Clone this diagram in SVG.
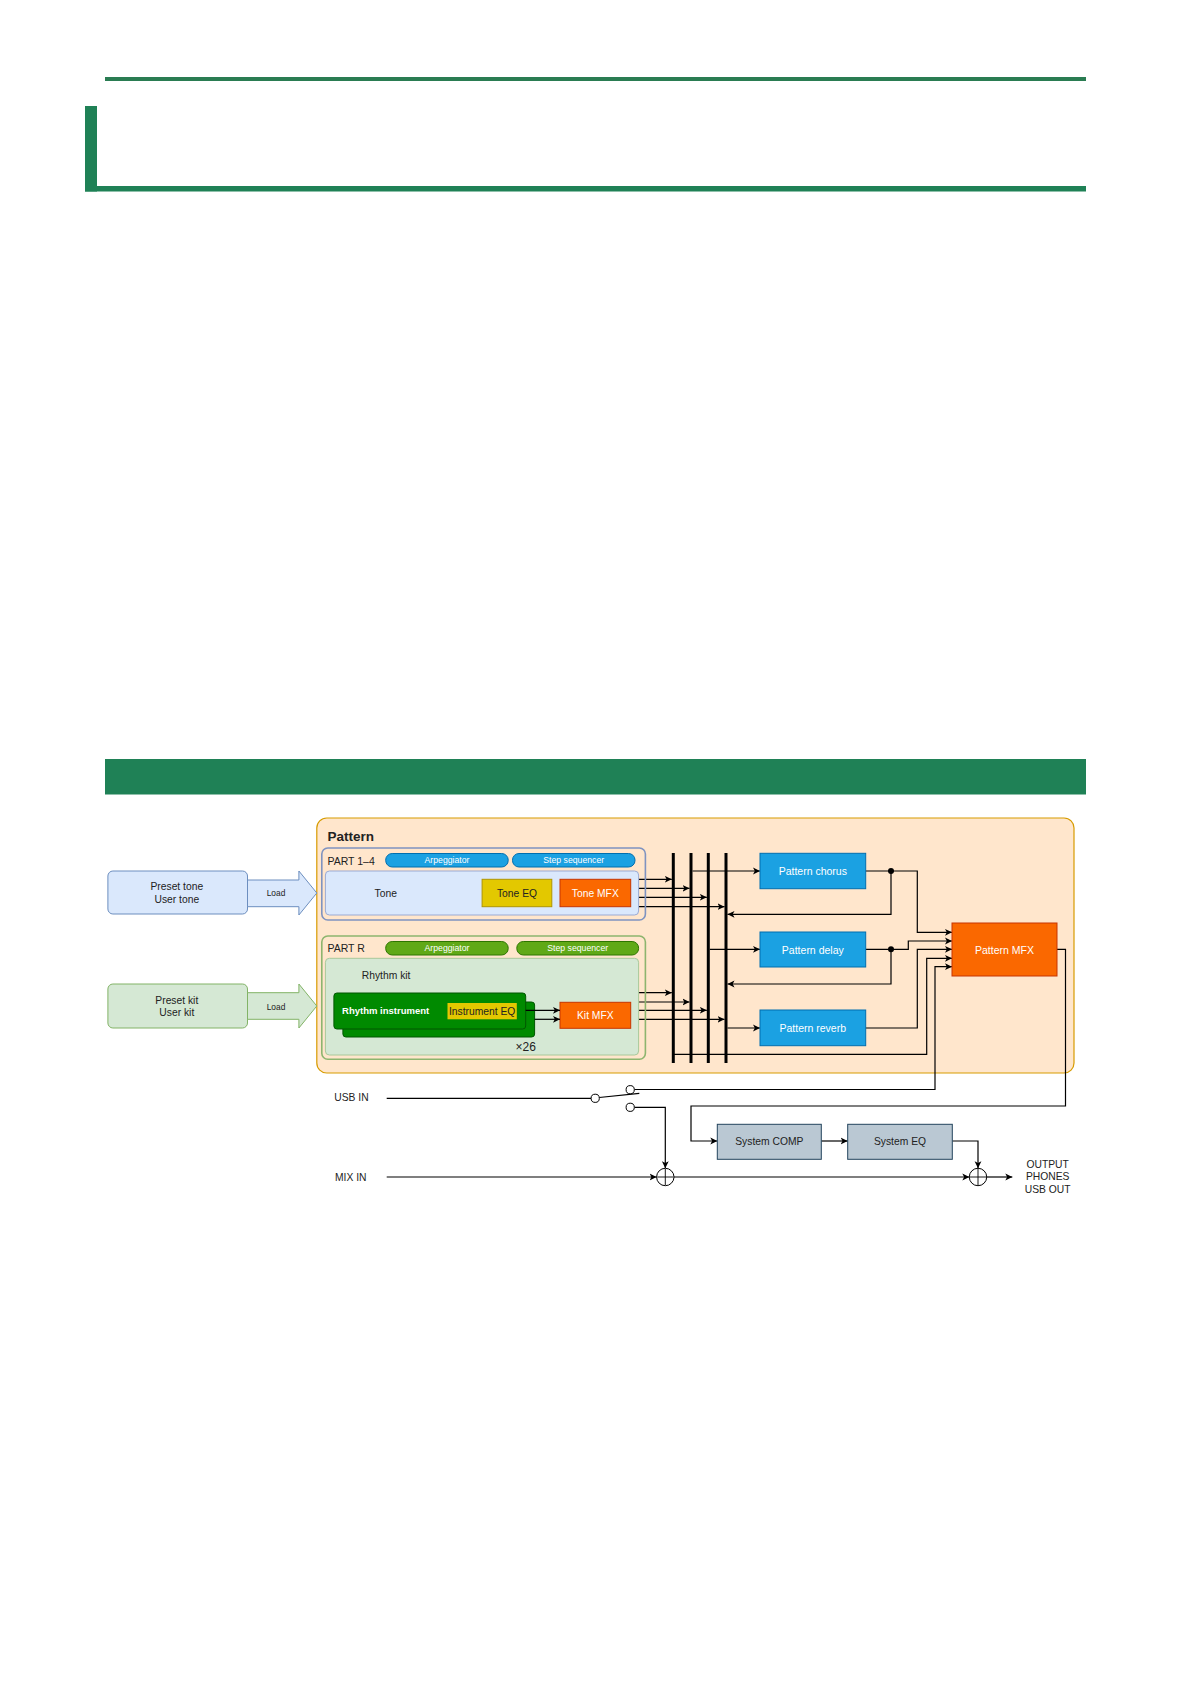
<svg xmlns="http://www.w3.org/2000/svg" width="1191" height="1684" viewBox="0 0 1191 1684">
<defs>
<marker id="a" markerWidth="8" markerHeight="8" refX="7" refY="4" orient="auto" markerUnits="userSpaceOnUse"><path d="M0,0.6 L7,4 L0,7.4 L1.8,4 Z" fill="#000"/></marker>
<style>
text{font-family:"Liberation Sans",Arial,sans-serif;font-size:10.3px;fill:#222}
.c{text-anchor:middle;dominant-baseline:central}
.l{dominant-baseline:central}
.w{fill:#fff}
.sm{font-size:8.7px}
.ln{fill:none;stroke:#000;stroke-width:1.2}
.bus{stroke:#000;stroke-width:3}
.blue{fill:#1ba1e2;stroke:#006eaf;stroke-width:1}
.orange{fill:#fa6800;stroke:#c73500;stroke-width:1}
.yellow{fill:#e3c800;stroke:#b09500;stroke-width:1}
.gpill{fill:#60a917;stroke:#2d7600;stroke-width:1}
.ginst{fill:#008a00;stroke:#005700;stroke-width:1}
.sys{fill:#bac8d3;stroke:#23445d;stroke-width:1}
.lb{fill:#dae8fc;stroke:#6c8ebf;stroke-width:1}
.lg{fill:#d5e8d4;stroke:#82b366;stroke-width:1}
.hdr{fill:#1f8156}
</style>
</defs>

<g id="page-header">
<rect x="105" y="77" width="981" height="4" fill="#2a7c52"/>
<rect x="85" y="106" width="12" height="85.5" class="hdr"/>
<rect x="85" y="186" width="1001" height="5.5" class="hdr"/>
<rect x="105" y="759" width="981" height="35.5" class="hdr"/>
</g>

<g id="pattern">
<rect x="316.8" y="818" width="757.2" height="255" rx="10" fill="#ffe6cc" stroke="#d79b00" stroke-width="1.2"/>
<text x="327.5" y="841" style="font-weight:bold;font-size:13.5px">Pattern</text>
</g>

<g id="connectors">
<path class="ln" d="M638.6,879.3 H671.8" marker-end="url(#a)"/>
<path class="ln" d="M638.6,888.3 H689.5" marker-end="url(#a)"/>
<path class="ln" d="M638.6,897.3 H706.8" marker-end="url(#a)"/>
<path class="ln" d="M638.6,906.7 H724.5" marker-end="url(#a)"/>
<path class="ln" d="M638.6,992.7 H671.8" marker-end="url(#a)"/>
<path class="ln" d="M638.6,1002 H689.5" marker-end="url(#a)"/>
<path class="ln" d="M638.6,1010.3 H706.8" marker-end="url(#a)"/>
<path class="ln" d="M638.6,1019.3 H724.5" marker-end="url(#a)"/>
<path class="ln" d="M692.5,871 H760" marker-end="url(#a)"/>
<path class="ln" d="M709.8,949.3 H760" marker-end="url(#a)"/>
<path class="ln" d="M727.5,1028 H760" marker-end="url(#a)"/>
<path class="ln" d="M673.3,1054.3 H926.7 V958.3 H952" marker-end="url(#a)"/>
<path class="ln" d="M865.7,871 H917.3 V932.3 H952" marker-end="url(#a)"/>
<path class="ln" d="M891,871 V914.3 H727.5" marker-end="url(#a)"/>
<path class="ln" d="M865.7,949.3 H908.3 V941 H952" marker-end="url(#a)"/>
<path class="ln" d="M891,949.3 V984 H727.5" marker-end="url(#a)"/>
<path class="ln" d="M865.7,1028 H917.3 V949.3 H952" marker-end="url(#a)"/>
<path class="ln" d="M634.4,1089.5 H935 V966.7 H952" marker-end="url(#a)"/>
<path class="ln" d="M1057,949.3 H1065.5 V1106 H691 V1141 H717.3" marker-end="url(#a)"/>
<path class="ln" d="M821.3,1141 H847.7" marker-end="url(#a)"/>
<path class="ln" d="M952.3,1141 H978 V1168.3" marker-end="url(#a)"/>
<path class="ln" d="M386.7,1098.3 H591"/>
<path class="ln" d="M599.2,1097.5 L639.3,1093.3"/>
<path class="ln" d="M634.4,1107.3 H665.3 V1168.3" marker-end="url(#a)"/>
<path class="ln" d="M386.7,1177 H656.6" marker-end="url(#a)"/>
<path class="ln" d="M674,1177 H969.3" marker-end="url(#a)"/>
<path class="ln" d="M986.7,1177 H1012.3" marker-end="url(#a)"/>
<circle cx="891" cy="871" r="3" fill="#000"/>
<circle cx="891" cy="949.3" r="3" fill="#000"/>
</g>

<g id="buses">
<line class="bus" x1="673.3" y1="853" x2="673.3" y2="1063"/>
<line class="bus" x1="691" y1="853" x2="691" y2="1063"/>
<line class="bus" x1="708.3" y1="853" x2="708.3" y2="1063"/>
<line class="bus" x1="726" y1="853" x2="726" y2="1063"/>
</g>

<g id="preset-tone">
<rect x="107.9" y="871" width="139.6" height="43" rx="5" class="lb"/>
<text class="c" x="176.8" y="886">Preset tone</text>
<text class="c" x="176.8" y="899.3">User tone</text>
</g>
<g id="load-tone">
<polygon class="lb" points="247.5,880 298.9,880 298.9,871 316.8,893 298.9,915 298.9,906.7 247.5,906.7"/>
<text class="c" x="276" y="893" style="font-size:8.4px">Load</text>
</g>
<g id="preset-kit">
<rect x="107.9" y="984" width="139.6" height="44" rx="5" class="lg"/>
<text class="c" x="176.8" y="1000">Preset kit</text>
<text class="c" x="176.8" y="1012.7">User kit</text>
</g>
<g id="load-kit">
<polygon class="lg" points="247.5,992.7 298.9,992.7 298.9,984 316.8,1006 298.9,1028 298.9,1019.3 247.5,1019.3"/>
<text class="c" x="276" y="1006.7" style="font-size:8.4px">Load</text>
</g>

<g id="part-1-4">
<rect x="321.8" y="848" width="323.6" height="72" rx="6" fill="none" stroke="#7f93c0" stroke-width="1.6"/>
<text class="l" x="327.5" y="860.5" style="font-size:10.5px">PART 1–4</text>
</g>
<g id="arp-1-4">
<rect x="385.7" y="853.5" width="122.5" height="13.5" rx="6.5" class="blue"/>
<text class="c w sm" x="447" y="860.3">Arpeggiator</text>
</g>
<g id="step-1-4">
<rect x="512.5" y="853.5" width="122.5" height="13.5" rx="6.5" class="blue"/>
<text class="c w sm" x="573.7" y="860.3">Step sequencer</text>
</g>
<g id="tone">
<rect x="325.4" y="871" width="313.2" height="44" rx="4" fill="#dae8fc" stroke="#9aaad4" stroke-width="1"/>
<text class="c" x="385.7" y="893">Tone</text>
</g>
<g id="tone-eq">
<rect x="482.1" y="879.3" width="69.7" height="27.4" class="yellow"/>
<text class="c" x="517" y="893">Tone EQ</text>
</g>
<g id="tone-mfx">
<rect x="560" y="879.3" width="70.7" height="27.4" class="orange"/>
<text class="c w" x="595.3" y="893">Tone MFX</text>
</g>

<g id="part-r">
<rect x="321.8" y="936" width="323.6" height="123.3" rx="6" fill="none" stroke="#8db56e" stroke-width="1.6"/>
<text class="l" x="327.5" y="948.3" style="font-size:10.5px">PART R</text>
</g>
<g id="arp-r">
<rect x="385.7" y="941.5" width="122.5" height="13.5" rx="6.5" class="gpill"/>
<text class="c w sm" x="447" y="948.3">Arpeggiator</text>
</g>
<g id="step-r">
<rect x="516.8" y="941.5" width="121.8" height="13.5" rx="6.5" class="gpill"/>
<text class="c w sm" x="577.7" y="948.3">Step sequencer</text>
</g>
<g id="rhythm-kit">
<rect x="325.4" y="958.3" width="313.2" height="96.7" rx="4" fill="#d5e8d4" stroke="#a8c99a" stroke-width="1"/>
<text class="l" x="361.8" y="975.7">Rhythm kit</text>
</g>
<g id="rhythm-instrument">
<rect x="342.9" y="1002" width="191.7" height="35" rx="3" class="ginst"/>
<rect x="333.9" y="993" width="191.8" height="36" rx="3" class="ginst"/>
<text class="l w" x="342.1" y="1010.5" style="font-weight:bold;font-size:9.5px">Rhythm instrument</text>
<text class="c" x="525.7" y="1046.7" style="font-size:12px">×26</text>
</g>
<g id="instrument-eq">
<rect x="447.5" y="1003" width="69.3" height="16.3" fill="#e3c800"/>
<text class="c" x="482.2" y="1011.2">Instrument EQ</text>
</g>
<g id="kit-mfx">
<rect x="560" y="1002.3" width="70.7" height="26" class="orange"/>
<text class="c w" x="595.3" y="1015.3">Kit MFX</text>
</g>
<g id="kit-arrows">
<path class="ln" d="M525.7,1010.3 H560" marker-end="url(#a)"/>
<path class="ln" d="M534.6,1019.3 H560" marker-end="url(#a)"/>
</g>

<g id="pattern-chorus">
<rect x="760" y="853.3" width="105.7" height="35.4" class="blue"/>
<text class="c w" x="812.8" y="871" style="font-size:10.5px">Pattern chorus</text>
</g>
<g id="pattern-delay">
<rect x="760" y="932" width="105.7" height="35" class="blue"/>
<text class="c w" x="812.8" y="949.5" style="font-size:10.5px">Pattern delay</text>
</g>
<g id="pattern-reverb">
<rect x="760" y="1010" width="105.7" height="35.7" class="blue"/>
<text class="c w" x="812.8" y="1028" style="font-size:10.5px">Pattern reverb</text>
</g>
<g id="pattern-mfx">
<rect x="952" y="923" width="105" height="53" class="orange"/>
<text class="c w" x="1004.5" y="949.5" style="font-size:10.5px">Pattern MFX</text>
</g>

<g id="usb-in">
<text class="l" x="334.3" y="1097">USB IN</text>
</g>
<g id="switch">
<circle cx="595.2" cy="1098.3" r="4.1" fill="#fff" stroke="#000" stroke-width="1"/>
<circle cx="630.2" cy="1089.7" r="4.1" fill="#fff" stroke="#000" stroke-width="1"/>
<circle cx="630.2" cy="1107.3" r="4.1" fill="#fff" stroke="#000" stroke-width="1"/>
</g>
<g id="mix-in">
<text class="l" x="335" y="1177">MIX IN</text>
</g>
<g id="sum-1">
<circle cx="665.3" cy="1177" r="8.7" fill="#fff" stroke="#000" stroke-width="1"/>
<path d="M665.3,1169 V1185 M657.3,1177 H673.3" stroke="#000" stroke-width="0.9"/>
</g>
<g id="system-comp">
<rect x="717.3" y="1124.3" width="104" height="35" class="sys"/>
<text class="c" x="769.3" y="1141.8">System COMP</text>
</g>
<g id="system-eq">
<rect x="847.7" y="1124.3" width="104.6" height="35" class="sys"/>
<text class="c" x="900" y="1141.8">System EQ</text>
</g>
<g id="sum-2">
<circle cx="978" cy="1177" r="8.7" fill="#fff" stroke="#000" stroke-width="1"/>
<path d="M978,1169 V1185 M970,1177 H986" stroke="#000" stroke-width="0.9"/>
</g>
<g id="output">
<text class="c" x="1047.7" y="1164.3">OUTPUT</text>
<text class="c" x="1047.7" y="1176.8">PHONES</text>
<text class="c" x="1047.7" y="1189.3">USB OUT</text>
</g>
</svg>
